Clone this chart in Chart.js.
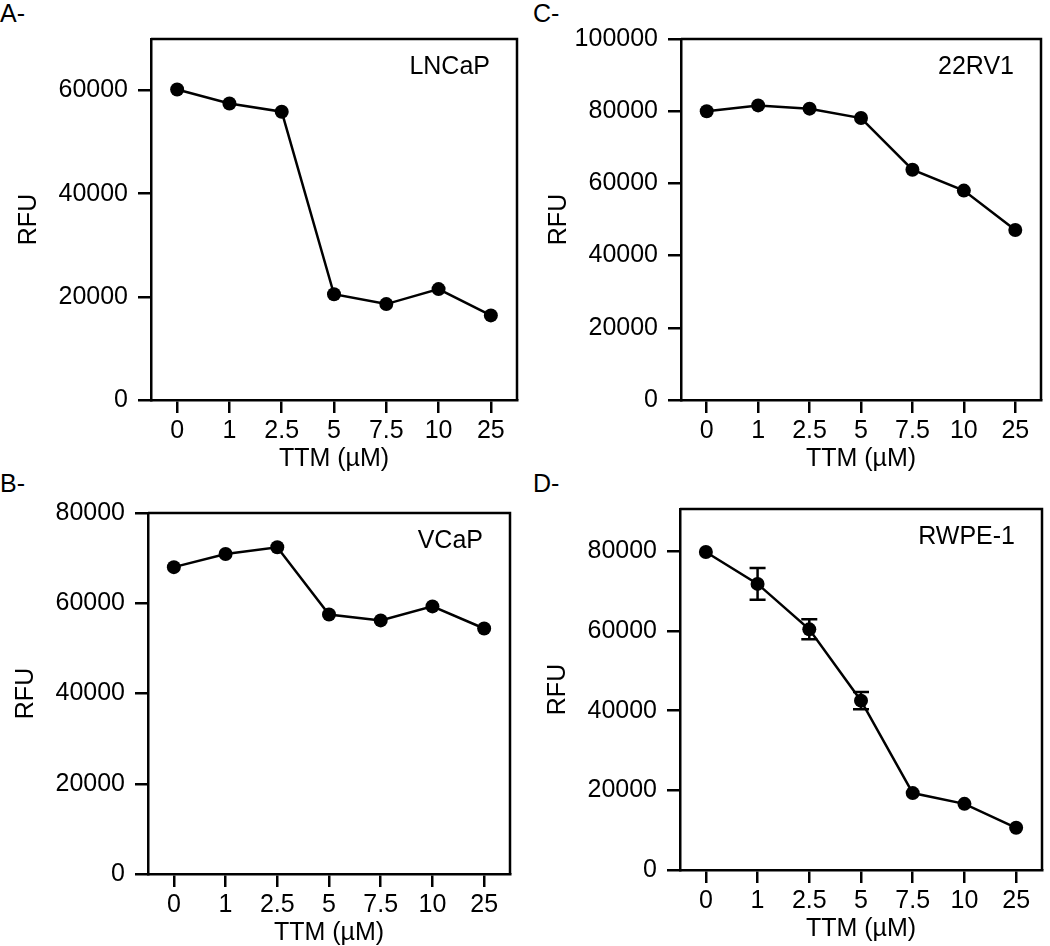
<!DOCTYPE html>
<html>
<head>
<meta charset="utf-8">
<script src="https://cdn.jsdelivr.net/npm/chart.js@4"></script>
<style>
  html, body { margin: 0; padding: 0; background: #fff; }
  body { width: 1050px; height: 946px; position: relative; overflow: hidden; font-family: 'Liberation Sans', Arial, sans-serif; }
  canvas { position: absolute; }
  .tag { position: absolute; font-size: 25px; line-height: 1; color: #000; }
</style>
</head>
<body>
<div class="tag" style="left:0;top:1px">A-</div>
<div class="tag" style="left:533px;top:1px">C-</div>
<div class="tag" style="left:0;top:471px">B-</div>
<div class="tag" style="left:533px;top:471px">D-</div>

<canvas id="chartA" width="514" height="460" style="left:11px;top:14px"></canvas>
<canvas id="chartC" width="508" height="460" style="left:541px;top:14px"></canvas>
<canvas id="chartB" width="510" height="460" style="left:8px;top:488px"></canvas>
<canvas id="chartD" width="510" height="460" style="left:540px;top:484px"></canvas>

<script>
// TTM doses (µM)
const doses = ['0', '1', '2.5', '5', '7.5', '10', '25'];

// RFU readings per cell line
const lncap = [60200, 57500, 55900, 20500, 18600, 21500, 16400];
const vcap = [68000, 70900, 72400, 57500, 56200, 59300, 54400];
const rv22 = [80000, 81600, 80700, 78100, 63800, 58000, 47100];
const rwpe1 = [79800, 71800, 60400, 42500, 19300, 16600, 10600];
const rwpe1Err = [0, 4000, 2500, 2150, 0, 0, 0];

// y tick labels per panel
const ticksA = [0, 20000, 40000, 60000];
const ticksB = [0, 20000, 40000, 60000, 80000];
const ticksC = [0, 20000, 40000, 60000, 80000, 100000];
const ticksD = [0, 20000, 40000, 60000, 80000];

Chart.defaults.font.family = "'Liberation Sans', Arial, sans-serif";
Chart.defaults.font.size = 25;
Chart.defaults.color = '#000';

// box round the plot area plus the cell line name in the corner
const framePlugin = {
    id: 'frame',
    afterDraw(chart, args, opts) {
        const { ctx, chartArea: a } = chart;
        ctx.save();
        ctx.strokeStyle = '#000';
        ctx.lineWidth = 2.5;
        ctx.beginPath();
        ctx.moveTo(a.left, a.top);
        ctx.lineTo(a.right, a.top);
        ctx.lineTo(a.right, a.bottom);
        ctx.stroke();
        ctx.fillStyle = '#000';
        ctx.font = "25px 'Liberation Sans', Arial, sans-serif";
        ctx.textAlign = 'right';
        ctx.textBaseline = 'middle';
        ctx.fillText(opts.text, a.right - 27, a.top + 28);
        ctx.restore();
    }
};

// error bars, drawn under the points
const errorBarPlugin = {
    id: 'errorBars',
    beforeDatasetsDraw(chart, args, opts) {
        if (!opts.errors) return;
        const { ctx, scales: { x, y } } = chart;
        const vals = chart.data.datasets[0].data;
        ctx.save();
        ctx.strokeStyle = '#000';
        ctx.lineWidth = 2.5;
        opts.errors.forEach((e, i) => {
            if (!e) return;
            const px = x.getPixelForValue(i);
            const top = y.getPixelForValue(vals[i] + e);
            const bot = y.getPixelForValue(vals[i] - e);
            ctx.beginPath();
            ctx.moveTo(px, top); ctx.lineTo(px, bot);
            ctx.moveTo(px - 8, top); ctx.lineTo(px + 8, top);
            ctx.moveTo(px - 8, bot); ctx.lineTo(px + 8, bot);
            ctx.stroke();
        });
        ctx.restore();
    }
};

function makeChart(id, name, values, yMax, yTicks, errors) {
    const ctx = document.getElementById(id).getContext('2d');
    return new Chart(ctx, {
        type: 'line',
        data: {
            labels: doses,
            datasets: [{
                data: values,
                borderColor: '#000',
                borderWidth: 2.5,
                pointRadius: 7,
                pointBackgroundColor: '#000',
                pointBorderWidth: 0,
                tension: 0
            }]
        },
        options: {
            responsive: false,
            animation: false,
            layout: { padding: { top: 20, right: 8, left: 0, bottom: 0 } },
            plugins: {
                legend: { display: false },
                tooltip: { enabled: false },
                frame: { text: name },
                errorBars: { errors: errors }
            },
            scales: {
                x: {
                    offset: true,
                    grid: { drawOnChartArea: false, drawTicks: true, tickLength: 13, color: '#000', lineWidth: 2.5, offset: false },
                    border: { display: true, color: '#000', width: 2.5 },
                    ticks: { padding: 3, maxRotation: 0, autoSkip: false },
                    title: { display: true, text: 'TTM (µM)', padding: { top: 0, bottom: 0 } },
                    afterFit(scale) { scale.height = 74; }
                },
                y: {
                    min: 0,
                    max: yMax,
                    grid: { drawOnChartArea: false, drawTicks: true, tickLength: 13, color: '#000', lineWidth: 2.5 },
                    border: { display: true, color: '#000', width: 2.5 },
                    ticks: { padding: 10, callback: v => String(v) },
                    afterBuildTicks(scale) { scale.ticks = yTicks.map(v => ({ value: v })); },
                    title: { display: true, text: 'RFU', padding: { top: 3, bottom: 0 } },
                    afterFit(scale) { scale.width = 140; }
                }
            }
        },
        plugins: [framePlugin, errorBarPlugin]
    });
}

makeChart('chartA', 'LNCaP', lncap, 70000, ticksA);
makeChart('chartC', '22RV1', rv22, 100000, ticksC);
makeChart('chartB', 'VCaP', vcap, 80000, ticksB);
makeChart('chartD', 'RWPE-1', rwpe1, 90600, ticksD, rwpe1Err);
</script>
</body>
</html>
